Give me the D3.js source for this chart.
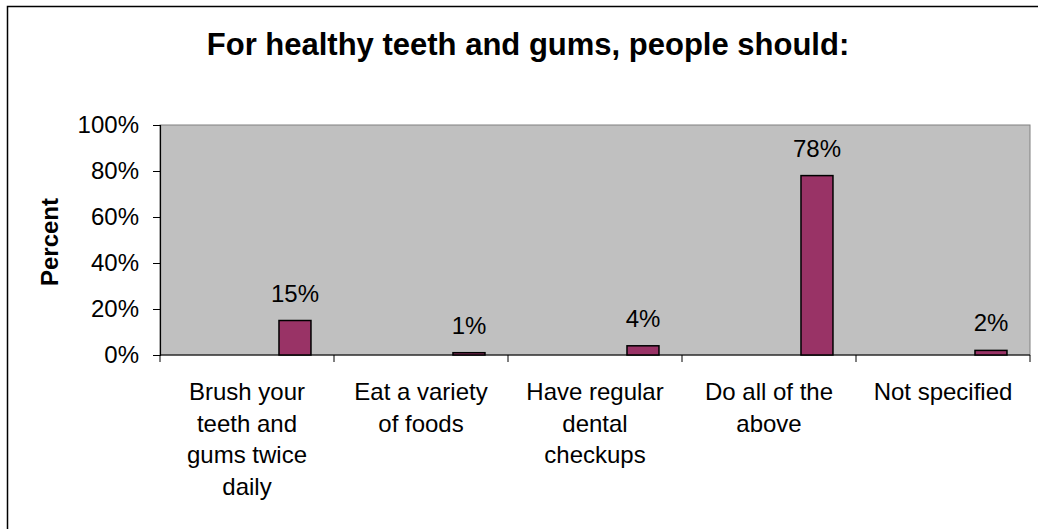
<!DOCTYPE html>
<html>
<head>
<meta charset="utf-8">
<script src="https://cdn.jsdelivr.net/npm/d3@7"></script>
<style>
  html, body { margin: 0; padding: 0; background: #fff; }
  svg { display: block; }
  text { font-family: "Liberation Sans", Arial, sans-serif; fill: #000; }
</style>
</head>
<body>
<svg id="chart" width="1038" height="529"></svg>
<script>
// ---- data ----
const title = "For healthy teeth and gums, people should:";
const yAxisTitle = "Percent";
const categories = [
  "Brush your teeth and gums twice daily",
  "Eat a variety of foods",
  "Have regular dental checkups",
  "Do all of the above",
  "Not specified"
];
const categoryLines = [
  ["Brush your", "teeth and", "gums twice", "daily"],
  ["Eat a variety", "of foods"],
  ["Have regular", "dental", "checkups"],
  ["Do all of the", "above"],
  ["Not specified"]
];
const percentValues = [0.15, 0.01, 0.04, 0.78, 0.02];
const valueLabels = ["15%", "1%", "4%", "78%", "2%"];
const yTicks = [0, 0.2, 0.4, 0.6, 0.8, 1.0];
// series slots within each category (the plotted series is the last slot)
const seriesSlots = ["s1", "s2", "s3", "Percent"];

// ---- layout ----
const svg = d3.select("#chart");
const plot = { left: 160, right: 1030, top: 125, bottom: 355 };

// outer chart border (extends beyond the visible frame at right/bottom)
svg.append("rect")
  .attr("x", 7.5).attr("y", 6.5)
  .attr("width", 1100).attr("height", 600)
  .attr("fill", "none").attr("stroke", "#000").attr("stroke-width", 1.5);

const x = d3.scaleBand().domain(categories).range([plot.left, plot.right]).padding(0);
const xInner = d3.scaleBand().domain(seriesSlots).range([0, x.bandwidth()])
  .paddingInner(0).paddingOuter(0.72);
const y = d3.scaleLinear().domain([0, 1]).range([plot.bottom, plot.top]);

// plot area
svg.append("rect")
  .attr("x", plot.left).attr("y", plot.top)
  .attr("width", plot.right - plot.left).attr("height", plot.bottom - plot.top)
  .attr("fill", "#C0C0C0").attr("stroke", "#808080").attr("stroke-width", 1);

// title
svg.append("text")
  .attr("x", 528).attr("y", 55)
  .attr("text-anchor", "middle")
  .style("font-size", "31px").style("font-weight", "bold")
  .text(title);

// y axis
const yAxis = d3.axisLeft(y).tickValues(yTicks).tickFormat(d3.format(".0%"))
  .tickSize(7).tickPadding(14);
const gy = svg.append("g").attr("transform", `translate(${plot.left},0)`).call(yAxis);
gy.select(".domain").attr("stroke", "#000").attr("stroke-width", 1.2);
gy.selectAll(".tick line").attr("stroke", "#000");
gy.selectAll(".tick text").style("font-size", "24px").style("font-family", "'Liberation Sans', Arial, sans-serif");

// y axis title
svg.append("text")
  .attr("transform", `translate(58,242) rotate(-90)`)
  .attr("text-anchor", "middle")
  .style("font-size", "24px").style("font-weight", "bold")
  .text(yAxisTitle);

// x axis (ticks at category boundaries)
const boundaries = categories.map(c => x(c)).concat([plot.right]);
const gx = svg.append("g");
gx.append("line")
  .attr("x1", plot.left).attr("x2", plot.right)
  .attr("y1", plot.bottom).attr("y2", plot.bottom)
  .attr("stroke", "#000").attr("stroke-width", 1.2);
gx.selectAll("line.tick").data(boundaries).join("line")
  .attr("class", "tick")
  .attr("x1", d => d).attr("x2", d => d)
  .attr("y1", plot.bottom).attr("y2", plot.bottom + 7)
  .attr("stroke", "#000");

// category labels
const catG = svg.append("g");
categories.forEach((c, i) => {
  const t = catG.append("text")
    .attr("x", x(c) + x.bandwidth() / 2)
    .attr("y", 400)
    .attr("text-anchor", "middle")
    .style("font-size", "24px");
  categoryLines[i].forEach((line, j) => {
    t.append("tspan")
      .attr("x", x(c) + x.bandwidth() / 2)
      .attr("dy", j === 0 ? 0 : 31.5)
      .text(line);
  });
});

// bars
const data = categories.map((c, i) => ({ cat: c, value: percentValues[i], label: valueLabels[i] }));
svg.append("g").selectAll("rect").data(data).join("rect")
  .attr("x", d => x(d.cat) + xInner("Percent"))
  .attr("y", d => y(d.value))
  .attr("width", xInner.bandwidth())
  .attr("height", d => y(0) - y(d.value))
  .attr("fill", "#993366")
  .attr("stroke", "#000")
  .attr("stroke-width", 1.5);

// data labels
svg.append("g").selectAll("text").data(data).join("text")
  .attr("x", d => x(d.cat) + xInner("Percent") + xInner.bandwidth() / 2)
  .attr("y", d => y(d.value) - 19)
  .attr("text-anchor", "middle")
  .style("font-size", "24px")
  .text(d => d.label);
</script>
</body>
</html>
